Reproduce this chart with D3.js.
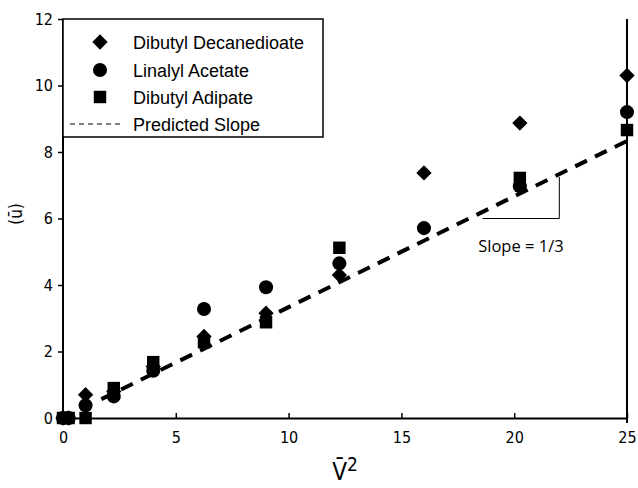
<!DOCTYPE html>
<html>
<head>
<meta charset="utf-8">
<script src="https://cdn.jsdelivr.net/npm/d3@7"></script>
<style>
  body { margin: 0; background: #fff; }
  .tick text { font-family: "Liberation Sans Narrow", "DejaVu Sans Condensed", Arial, sans-serif; font-size: 16px; }
</style>
</head>
<body>
<div id="chart"></div>
<script>
// chart data
var vSquared = [0, 0.25, 1, 2.25, 4, 6.25, 9, 12.25, 16, 20.25, 25];
var decanedioate = [0, 0, 0.7, 0.8, 1.55, 2.45, 3.15, 4.3, 7.37, 8.87, 10.3];
var linalyl = [0, 0, 0.38, 0.65, 1.42, 3.28, 3.93, 4.65, 5.71, 6.97, 9.2];
var adipate = [0, 0, 0, 0.9, 1.68, 2.28, 2.88, 5.12, null, 7.22, 8.66];
var slopeX = [1.7, 25];
var xTicks = [0, 5, 10, 15, 20, 25];
var yTicks = [0, 2, 4, 6, 8, 10, 12];
var legendNames = ["Dibutyl Decanedioate", "Linalyl Acetate", "Dibutyl Adipate", "Predicted Slope"];

var width = 638, height = 488;
var plotLeft = 63, plotRight = 627, plotTop = 19, plotBottom = 418;

var svg = d3.select("#chart").append("svg")
    .attr("width", width)
    .attr("height", height);

var xScale = d3.scaleLinear().domain([0, 25]).range([plotLeft, plotRight]);
var yScale = d3.scaleLinear().domain([0, 12]).range([plotBottom, plotTop]);

// axes
var xAxis = d3.axisBottom(xScale).tickValues(xTicks).tickSizeInner(-5).tickSizeOuter(0).tickPadding(14);
var yAxis = d3.axisLeft(yScale).tickValues(yTicks).tickSize(5).tickPadding(5);

svg.append("g")
    .attr("transform", `translate(0, ${plotBottom})`)
    .call(xAxis)
    .call(g => g.select(".domain").attr("stroke-width", 2))
    .call(g => g.selectAll(".tick line").attr("stroke-width", 1.5));

svg.append("g")
    .attr("transform", `translate(${plotLeft}, 0)`)
    .call(yAxis)
    .call(g => g.select(".domain").attr("stroke-width", 2).attr("d", `M0,${plotTop}V${plotBottom}`))
    .call(g => g.selectAll(".tick line").attr("stroke-width", 1.5));

// right border
svg.append("line")
    .attr("x1", plotRight).attr("x2", plotRight)
    .attr("y1", plotTop).attr("y2", plotBottom + 5)
    .attr("stroke", "#000").attr("stroke-width", 2);

// predicted slope
var line = d3.line()
    .x(function(d) { return xScale(d); })
    .y(function(d) { return yScale(d / 3); });

svg.append("path")
    .datum(slopeX)
    .attr("d", line)
    .attr("fill", "none")
    .attr("stroke", "#000")
    .attr("stroke-width", 4)
    .attr("stroke-dasharray", "13,9");

// markers
var diamond = d3.symbol().type(d3.symbolDiamond2 || d3.symbolDiamond).size(150);
var circle = d3.symbol().type(d3.symbolCircle).size(155);
var square = d3.symbol().type(d3.symbolSquare).size(155);

function drawSeries(values, sym) {
    var pts = vSquared.map(function(x, i) { return [x, values[i]]; })
        .filter(function(d) { return d[1] !== null; });
    svg.append("g").selectAll("path")
        .data(pts).enter()
        .append("path")
        .attr("d", sym)
        .attr("transform", function(d) {
            return `translate(${xScale(d[0])}, ${yScale(d[1])})`;
        })
        .attr("fill", "#000");
}
drawSeries(decanedioate, diamond);
drawSeries(linalyl, circle);
drawSeries(adipate, square);

// slope triangle
var tri = svg.append("g");
tri.append("path")
    .attr("d", `M${xScale(18.6)},${yScale(6)}H${xScale(22)}V${yScale(7.25)}`)
    .attr("fill", "none")
    .attr("stroke", "#000")
    .attr("stroke-width", 1);
tri.append("text")
    .attr("x", xScale(20.3))
    .attr("y", 252)
    .attr("text-anchor", "middle")
    .attr("font-family", "Open Sans, Noto Sans, sans-serif")
    .attr("font-size", 16.5)
    .text("Slope = 1/3");

// legend
var legend = svg.append("g");
legend.append("rect")
    .attr("x", plotLeft).attr("y", plotTop)
    .attr("width", 260).attr("height", 118)
    .attr("fill", "#fff")
    .attr("stroke", "#000")
    .attr("stroke-width", 1.5);

var rowY = [42, 70, 97, 124];
var legendSyms = [diamond, circle, square];
legendSyms.forEach(function(sym, i) {
    legend.append("path")
        .attr("d", sym)
        .attr("transform", `translate(100, ${rowY[i]})`)
        .attr("fill", "#000");
});
legend.append("line")
    .attr("x1", 70).attr("x2", 120)
    .attr("y1", rowY[3]).attr("y2", rowY[3])
    .attr("stroke", "#000")
    .attr("stroke-width", 1)
    .attr("stroke-dasharray", "5,4");

legend.selectAll("text")
    .data(legendNames).enter()
    .append("text")
    .attr("x", 133)
    .attr("y", function(d, i) { return rowY[i] + 6.5; })
    .attr("font-family", "Liberation Sans, Arial, sans-serif")
    .attr("font-size", 18)
    .text(function(d) { return d; });

// axis labels
var xLabel = svg.append("text")
    .attr("x", 345)
    .attr("y", 480)
    .attr("text-anchor", "middle")
    .attr("font-family", "Liberation Sans Narrow, DejaVu Sans Condensed, Arial, sans-serif")
    .attr("font-size", 24);
xLabel.append("tspan").text("V\u0304");
xLabel.append("tspan").attr("dy", -9).attr("font-size", 19).text("2");

svg.append("text")
    .attr("transform", "translate(22, 214) rotate(-90)")
    .attr("text-anchor", "middle")
    .attr("font-family", "Liberation Sans Narrow, DejaVu Sans Condensed, Arial, sans-serif")
    .attr("font-size", 17)
    .text("(u\u0304)");
</script>
</body>
</html>
